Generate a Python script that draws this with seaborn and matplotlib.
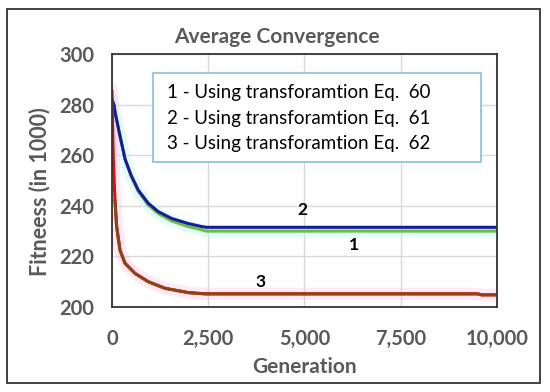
import numpy as np
import pandas as pd
import matplotlib as mpl
from matplotlib import pyplot as plt
import seaborn as sns

sns.set_style("white")
plt.rcParams['font.family'] = ['Lato', 'DejaVu Sans']

# values (fitness in 1000)
gen12 = [0, 50, 80, 210, 340, 500, 684, 943, 1203, 1550, 1983, 2330, 2450, 10000]
fit1 = [282, 280, 277, 267.5, 258.3, 251.5, 245.6, 240.3, 236.9, 234, 231.8, 230.5, 230, 230]
fit2 = [282, 280, 277, 267.5, 258.5, 252, 246.2, 241, 237.7, 235, 233, 231.8, 231.5, 231.5]

gen3 = [0, 35, 78, 121, 208, 338, 597, 943, 1377, 1983, 2416, 2500, 9500, 9600, 10000]
fit3 = [285.5, 258, 242.3, 231.8, 222.5, 217.3, 213.3, 210, 207.4, 205.7, 205.2, 205.2, 205.2, 204.8, 204.8]

legend_labels = ['1 - Using transforamtion Eq.  60',
                 '2 - Using transforamtion Eq.  61',
                 '3 - Using transforamtion Eq.  62']
curve_tags = ['1', '2', '3']
tag_pos = [(6290, 224.5), (4935, 238.3), (3870, 209.9)]

d12 = pd.DataFrame({'gen': gen12, 'f1': fit1, 'f2': fit2})
d3 = pd.DataFrame({'gen': gen3, 'f3': fit3})

fig = plt.figure(figsize=(5.5, 3.92), dpi=100)
ax = fig.add_axes([0.2036, 0.2168, 0.70, 0.6454])

grey = '#595959'

# soft glow like the spreadsheet effect
sns.lineplot(data=d12, x='gen', y='f1', color='#b8f5f0', lw=9, alpha=0.35, ax=ax)
sns.lineplot(data=d3, x='gen', y='f3', color='#ffb3e6', lw=9, alpha=0.3, ax=ax)

sns.lineplot(data=d12, x='gen', y='f1', color='#66c23a', lw=2.2, ax=ax)
sns.lineplot(data=d12, x='gen', y='f2', color='#1a1aa0', lw=2.2, ax=ax)
sns.lineplot(data=d3, x='gen', y='f3', color='#ff0000', lw=2.2, ax=ax)
sns.lineplot(data=d3[d3['f3'] <= 243], x='gen', y='f3', color='#8b4513', lw=2.2, ax=ax)

ax.set_xlim(0, 10000)
ax.set_ylim(200, 300)
ax.set_xticks([0, 2500, 5000, 7500, 10000])
ax.set_yticks([200, 220, 240, 260, 280, 300])
ax.xaxis.set_major_formatter(mpl.ticker.FuncFormatter(lambda v, p: f'{int(v):,}'))
ax.grid(True, color='#d9d9d9', lw=1)
ax.tick_params(axis='y', length=0, pad=13, labelsize=14.5, labelcolor=grey)
ax.tick_params(axis='x', length=0, pad=16, labelsize=14.5, labelcolor=grey)
for lab in ax.get_xticklabels() + ax.get_yticklabels():
    lab.set_fontweight('bold')
for s in ax.spines.values():
    s.set_color('#333333')
    s.set_linewidth(1.3)

ax.set_xlabel('Generation', fontsize=15, fontweight='bold', color=grey)
ax.set_ylabel('Fitneess (in 1000)', fontsize=15.5, fontweight='bold', color=grey)
ax.xaxis.set_label_coords(0.5, -0.237)
ax.yaxis.set_label_coords(-0.187, 0.455)
ax.xaxis.label.set_va('center')
ax.yaxis.label.set_va('center')
fig.text(0.503, 1 - 37 / 392, 'Average Convergence', ha='center', va='center',
         fontsize=15, fontweight='bold', color=grey)

for t, (x, y) in zip(curve_tags, tag_pos):
    ax.text(x, y, t, ha='center', va='center', fontsize=12.5, fontweight='bold', color='black')

# text box with the curve descriptions
ax.add_patch(mpl.patches.Rectangle((0.106, 0.573), 0.852, 0.352, transform=ax.transAxes,
                                   facecolor='white', edgecolor='#7fb8dc', lw=1.1, zorder=5))
for i, lab in enumerate(legend_labels):
    ax.text(0.143, 0.846 - i * 0.099, lab, transform=ax.transAxes, ha='left', va='center',
            fontsize=13.5, color='black', zorder=6)

fig.patches.append(mpl.patches.Rectangle((7 / 550, 9 / 392), 533 / 550, 374 / 392,
                                         transform=fig.transFigure, fill=False,
                                         edgecolor='#333333', lw=1.3))

fig.savefig('out.png', dpi=100)
